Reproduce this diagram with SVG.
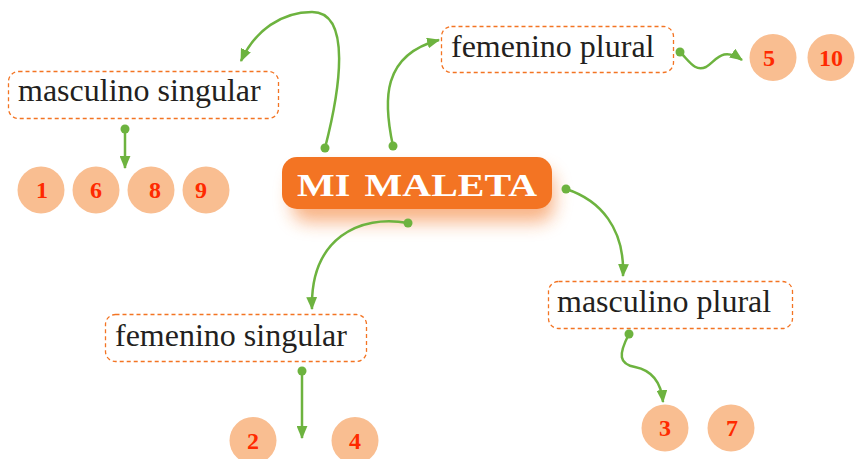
<svg xmlns="http://www.w3.org/2000/svg" width="866" height="459" viewBox="0 0 866 459">
<style>
.box{fill:#fff;stroke:#F37423;stroke-width:1.3;stroke-dasharray:4 3}
.lbl{font-family:"Liberation Serif","DejaVu Serif",serif;font-size:32px;fill:#231F20}
.num{fill:#F9BE91}
.nt{font-family:"Liberation Serif","DejaVu Serif",serif;font-size:24px;font-weight:bold;fill:#FF2A00;text-anchor:middle}
.con{fill:none;stroke:#6DB33F;stroke-width:2.5;marker-start:url(#dot);marker-end:url(#arr)}
</style>
<defs>
<marker id="arr" viewBox="0 0 12 10" refX="11" refY="5" markerWidth="13" markerHeight="11" markerUnits="userSpaceOnUse" orient="auto">
<path d="M0,0 L12,5 L0,10 Z" fill="#6DB33F"/>
</marker>
<marker id="dot" viewBox="0 0 10 10" refX="5" refY="5" markerWidth="10" markerHeight="10" markerUnits="userSpaceOnUse">
<circle cx="5" cy="5" r="4.5" fill="#6DB33F"/>
</marker>
<filter id="glow" x="-20%" y="-50%" width="140%" height="200%">
<feGaussianBlur stdDeviation="9"/>
</filter>
</defs>

<g id="title">
<rect x="292" y="170" width="262" height="52" rx="16" fill="#F37423" opacity="0.55" filter="url(#glow)"/>
<rect x="282" y="157" width="270" height="52" rx="15" fill="#F37423"/>
<text x="417" y="196" text-anchor="middle" font-family="Liberation Serif, DejaVu Serif, serif" font-size="46" font-weight="bold" font-variant="small-caps" fill="#fff" textLength="240" lengthAdjust="spacingAndGlyphs">mi maleta</text>
</g>

<g id="masculino-singular">
<rect class="box" x="8.5" y="71.5" width="270" height="47" rx="10"/>
<text class="lbl" x="18" y="101">masculino singular</text>
</g>
<g id="femenino-plural">
<rect class="box" x="441.5" y="26.5" width="232" height="46" rx="10"/>
<text class="lbl" x="451" y="57">femenino plural</text>
</g>
<g id="femenino-singular">
<rect class="box" x="105.5" y="314.5" width="261" height="47" rx="10"/>
<text class="lbl" x="115" y="346">femenino singular</text>
</g>
<g id="masculino-plural">
<rect class="box" x="548.5" y="281.5" width="244" height="47" rx="10"/>
<text class="lbl" x="557" y="312">masculino plural</text>
</g>

<g id="n1"><circle class="num" cx="41" cy="190" r="23.5"/><text class="nt" x="42" y="198">1</text></g>
<g id="n6"><circle class="num" cx="96" cy="190" r="23.5"/><text class="nt" x="96" y="198">6</text></g>
<g id="n8"><circle class="num" cx="151" cy="190" r="23.5"/><text class="nt" x="155" y="198">8</text></g>
<g id="n9"><circle class="num" cx="206" cy="190" r="23.5"/><text class="nt" x="201" y="198">9</text></g>
<g id="n5"><circle class="num" cx="773" cy="57.5" r="23.5"/><text class="nt" x="769" y="66">5</text></g>
<g id="n10"><circle class="num" cx="831" cy="57.5" r="23.5"/><text class="nt" x="831" y="66">10</text></g>
<g id="n2"><circle class="num" cx="253" cy="440.5" r="23.5"/><text class="nt" x="253" y="449">2</text></g>
<g id="n4"><circle class="num" cx="355" cy="440.5" r="23.5"/><text class="nt" x="355" y="449">4</text></g>
<g id="n3"><circle class="num" cx="665" cy="428" r="23.5"/><text class="nt" x="665" y="436">3</text></g>
<g id="n7"><circle class="num" cx="731" cy="428" r="23.5"/><text class="nt" x="732" y="436">7</text></g>

<g id="connectors">
<path class="con" d="M325,148 C340,90 352,12 312,12 C282,12 255,30 241,61"/>
<path class="con" d="M393,146 C383,100 382,55 439,40"/>
<path class="con" d="M680,52 C690,62 695,72 706,67 C716,61 722,46 742,60"/>
<path class="con" d="M566,189 C600,200 625,228 623,276"/>
<path class="con" d="M408,223 C360,214 310,238 312,309"/>
<path class="con" d="M125,129 L125,168"/>
<path class="con" d="M302,371 L302,438"/>
<path class="con" d="M629,334 C618,355 619,364 635,367 C650,370 661,380 663,402"/>
</g>
</svg>
